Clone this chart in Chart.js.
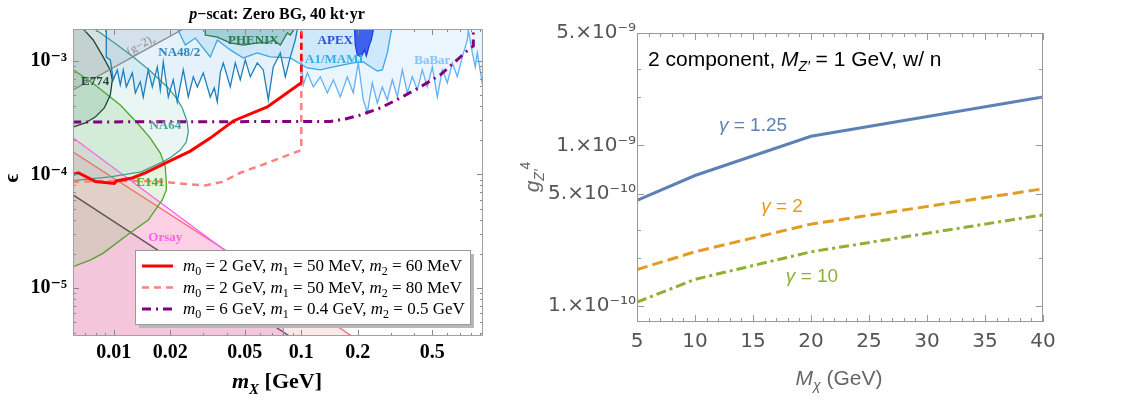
<!DOCTYPE html>
<html>
<head>
<meta charset="utf-8">
<script src="https://cdn.jsdelivr.net/npm/chart.js@4.4.1/dist/chart.umd.min.js"></script>
<style>
  html, body { margin: 0; padding: 0; background: #fff; }
  #wrap { position: relative; width: 1140px; height: 401px; }
  #left { position: absolute; left: 0; top: 0; width: 500px; height: 401px; }
  #right { position: absolute; left: 500px; top: 0; width: 640px; height: 401px; }
</style>
</head>
<body>
<div id="wrap">
  <div id="left"><canvas id="c1"></canvas></div>
  <div id="right"><canvas id="c2"></canvas></div>
</div>
<script>
// ---------- left panel: p-scat limits (m_X in GeV, epsilon) ----------
var xTicksL = [0.01, 0.02, 0.05, 0.1, 0.2, 0.5];
var xLabelsL = ['0.01', '0.02', '0.05', '0.1', '0.2', '0.5'];
var xMinorL = [0.007, 0.008, 0.009, 0.03, 0.04, 0.06, 0.07, 0.08, 0.09, 0.3, 0.4, 0.6, 0.7, 0.8, 0.9];
var yTicksL = [1e-5, 1e-4, 1e-3];
var yLabelsL = ['10⁻⁵', '10⁻⁴', '10⁻³'];
var yMinorL = [4e-6, 5e-6, 6e-6, 7e-6, 8e-6, 9e-6, 2e-5, 3e-5, 4e-5, 5e-5, 6e-5, 7e-5, 8e-5, 9e-5,
               2e-4, 3e-4, 4e-4, 5e-4, 6e-4, 7e-4, 8e-4, 9e-4];

// edges just outside the plotted range, used to close the shaded regions
var xEdgeL = 0.005, yEdgeB = 3e-6, yEdgeT = 2.5e-3;

// existing limits
var gm2 = [[0.005, 4.65e-4], [0.0256, 2.07e-3]];
var e774 = [[0.0068, 1.95e-3], [0.00777, 1.53e-3], [0.00879, 1.08e-3], [0.00958, 8.3e-4], [0.00982, 6.8e-4],
            [0.00958, 5.0e-4], [0.0089, 3.85e-4], [0.00796, 3.2e-4], [0.00705, 2.84e-4], [0.0058, 2.55e-4]];
var na64 = [[0.0076, 2.0e-3], [0.00994, 1.47e-3], [0.01271, 1.084e-3], [0.01566, 8.16e-4], [0.01929, 5.9e-4],
            [0.02153, 4.72e-4], [0.02319, 3.85e-4], [0.02466, 2.9e-4], [0.02496, 2.37e-4], [0.02437, 1.93e-4],
            [0.02263, 1.64e-4], [0.02025, 1.424e-4], [0.01859, 1.313e-4], [0.01401, 1.056e-4], [0.00958, 9.51e-5],
            [0.0058, 8.77e-5]];
var e141 = [[0.0058, 8.85e-4], [0.00796, 6.14e-4], [0.01083, 4.09e-4], [0.01335, 2.84e-4], [0.01566, 2.09e-4],
            [0.0177, 1.544e-4], [0.01882, 1.169e-4], [0.01906, 8.42e-5], [0.01906, 7.3e-5], [0.01814, 5.96e-5],
            [0.01527, 3.97e-5], [0.0118, 2.93e-5], [0.00879, 2.03e-5], [0.00749, 1.76e-5], [0.0058, 1.5e-5]];
var orsay = [[0.0058, 2.22e-4], [0.0384, 2.2e-5], [0.0802, 4.53e-6], [0.0802, 3e-6]];
var salmonLim = [[0.0058, 1.65e-4], [0.0393, 2.16e-5], [0.2064, 3.35e-6]];
var blackLim = [[0.0058, 6.93e-5], [0.094, 3.45e-6]];
var na48 = [[0.00912, 2.1e-3], [0.00912, 1.08e-3], [0.00958, 1.02e-3], [0.00994, 6.81e-4], [0.01044, 8.33e-4],
            [0.01083, 6.14e-4], [0.01124, 8.33e-4], [0.01166, 5.9e-4], [0.01256, 7.84e-4], [0.01303, 5.22e-4],
            [0.01384, 6.54e-4], [0.01436, 4.81e-4], [0.01527, 8.33e-4], [0.01605, 5.9e-4], [0.01707, 8.85e-4],
            [0.0177, 5.55e-4], [0.01836, 9.8e-4], [0.01953, 4.81e-4], [0.02075, 6.81e-4], [0.0218, 4.35e-4],
            [0.02348, 8.33e-4], [0.02496, 4.81e-4], [0.02655, 7.24e-4], [0.02789, 5.9e-4], [0.03, 7.84e-4],
            [0.0327, 4.81e-4], [0.03435, 5.78e-4], [0.03564, 4.35e-4], [0.03698, 7.84e-4], [0.03837, 9.6e-4],
            [0.04181, 5.9e-4], [0.04446, 9.6e-4], [0.04727, 6.81e-4], [0.05026, 1.02e-3], [0.05346, 7.24e-4],
            [0.05826, 9.6e-4], [0.0627, 8.33e-4], [0.06667, 4.53e-4], [0.07089, 8.85e-4], [0.07727, 1.176e-3],
            [0.08216, 7.24e-4], [0.08736, 1.08e-3], [0.09289, 1.53e-3], [0.09638, 2.1e-3]];
var phenix = [[0.03075, 2.1e-3], [0.03075, 1.69e-3], [0.03564, 1.62e-3], [0.04181, 1.44e-3], [0.04904, 1.38e-3],
              [0.05826, 1.44e-3], [0.06586, 1.44e-3], [0.07089, 1.53e-3], [0.07727, 1.38e-3], [0.08421, 1.76e-3],
              [0.08736, 1.69e-3], [0.0952, 2.1e-3]];
var a1mami = [[0.02127, 2.1e-3], [0.02406, 1.38e-3], [0.02721, 1.59e-3], [0.0327, 1.084e-3], [0.03564, 1.53e-3],
              [0.04181, 1.25e-3], [0.04904, 1.062e-3], [0.05826, 1.176e-3], [0.06833, 1.084e-3], [0.08736, 1.062e-3],
              [0.1077, 8.67e-4], [0.1263, 8.33e-4], [0.1482, 8.85e-4], [0.1893, 9.6e-4], [0.2141, 9.8e-4],
              [0.2391, 8.67e-4], [0.2543, 8.16e-4], [0.2704, 8.33e-4], [0.2875, 1.176e-3], [0.302, 1.87e-3],
              [0.3095, 2.1e-3]];
var apex = [[0.1917, 2.1e-3], [0.1941, 1.38e-3], [0.1989, 1.13e-3], [0.209, 1.084e-3], [0.2168, 1.25e-3],
            [0.2222, 1.107e-3], [0.2305, 1.38e-3], [0.2362, 1.53e-3], [0.242, 1.87e-3], [0.245, 2.1e-3]];
var babar = [[0.1, 1.02e-3], [0.1025, 6.14e-4], [0.1077, 7.84e-4], [0.1159, 5.9e-4], [0.1263, 7.24e-4],
             [0.1376, 5.22e-4], [0.1482, 6.81e-4], [0.1614, 4.81e-4], [0.1759, 7.24e-4], [0.1893, 5.22e-4],
             [0.2013, 9.6e-4], [0.2141, 4.53e-4], [0.2249, 3.48e-4], [0.2391, 6.41e-4], [0.2543, 4.26e-4],
             [0.2704, 5.9e-4], [0.2875, 4.53e-4], [0.3057, 6.81e-4], [0.3251, 4.81e-4], [0.3457, 8.33e-4],
             [0.3676, 5.22e-4], [0.3909, 7.24e-4], [0.4156, 5.55e-4], [0.4419, 8.33e-4], [0.4699, 5.9e-4],
             [0.4996, 8.85e-4], [0.5313, 4.81e-4], [0.5649, 8.33e-4], [0.6007, 6.41e-4], [0.6387, 9.6e-4],
             [0.6792, 7.24e-4], [0.7222, 1.084e-3], [0.7679, 1.53e-3], [0.7774, 1.87e-3], [0.8165, 1.176e-3],
             [0.8471, 8.85e-4], [0.8682, 1.176e-3], [0.9346, 5.55e-4], [1.1, 5.55e-4]];

// projected sensitivities
var m60 = [[0.006, 9.94e-5], [0.00647, 1.035e-4], [0.00796, 8.68e-5], [0.01006, 8.34e-5], [0.01031, 8.77e-5],
           [0.01256, 9.32e-5], [0.01472, 1.035e-4], [0.01882, 1.261e-4], [0.02559, 1.607e-4], [0.0327, 2.09e-4],
           [0.04338, 2.96e-4], [0.06586, 3.93e-4], [0.1, 6.41e-4]];
var m60Edge = [[0.1, 6.41e-4], [0.1, 2.5e-3]];
var m80 = [[0.006, 8.6e-5], [0.00958, 8.77e-5], [0.01384, 8.77e-5], [0.01882, 8.6e-5], [0.02406, 8.25e-5],
           [0.03075, 8.0e-5], [0.0379, 8.6e-5], [0.04727, 1.035e-4], [0.06586, 1.261e-4], [0.1, 1.64e-4],
           [0.1, 2.5e-3]];
var m6 = [[0.006, 2.9e-4], [0.1428, 2.93e-4], [0.1716, 3.08e-4], [0.2064, 3.34e-4], [0.2638, 3.85e-4],
          [0.3373, 4.72e-4], [0.4312, 5.9e-4], [0.5512, 7.53e-4], [0.7967, 1.3e-3], [0.8266, 1.356e-3],
          [0.8266, 2.5e-3]];

var regionNames = ['(g−2)_{e}', 'NA48/2', 'PHENIX', 'APEX', 'A1/MAMI', 'BaBar', 'E774', 'NA64', 'E141', 'Orsay'];
var regionNamePos = [[0.01384, 1.41e-3], [0.02235, 1.2e-3], [0.05547, 1.53e-3], [0.1518, 1.53e-3], [0.15, 1.06e-3],
                     [0.4996, 1.02e-3], [0.00796, 6.67e-4], [0.01882, 2.73e-4], [0.01566, 8.6e-5], [0.01882, 2.82e-5]];

// ---------- right panel: g_Z'^4 vs M_chi ----------
var mChi = [5, 10, 20, 40];
var gamma125 = [4.55e-10, 6.5e-10, 1.14e-9, 2.0e-9];
var gamma2 = [1.69e-10, 2.18e-10, 3.24e-10, 5.37e-10];
var gamma10 = [1.06e-10, 1.47e-10, 2.18e-10, 3.7e-10];
var xTicksR = [5, 10, 15, 20, 25, 30, 35, 40];
var xMinorR = [6, 7, 8, 9, 11, 12, 13, 14, 16, 17, 18, 19, 21, 22, 23, 24, 26, 27, 28, 29, 31, 32, 33, 34, 36, 37, 38, 39];
var yTicksR = [1e-10, 5e-10, 1e-9, 5e-9];
var yLabelsR = ['1.×10⁻¹⁰', '5.×10⁻¹⁰', '1.×10⁻⁹', '5.×10⁻⁹'];
var yMinorR = [2e-10, 3e-10, 2e-9, 3e-9];

var SERIF = '"Liberation Serif", "DejaVu Serif", serif';
var SANS = '"Liberation Sans", "DejaVu Sans", sans-serif';
var TICKSANS = '"DejaVu Sans", sans-serif';

function pts(arr) { return arr.map(function (p) { return { x: p[0], y: p[1] }; }); }

// tiny markup: *italic*, _{sub}, ^{sup}
function rich(str, size, family, weight) {
  var parts = [];
  str.split(/(_\{[^}]*\}|\^\{[^}]*\}|\*[^*]*\*)/).forEach(function (tok) {
    if (!tok) return;
    var small = Math.round(size * 0.68);
    if (tok[0] === '_' || tok[0] === '^') {
      var inner = tok.slice(2, -1), it = '';
      if (inner[0] === '*') { inner = inner.slice(1, -1); it = 'italic '; }
      parts.push({ t: inner, f: it + weight + ' ' + small + 'px ' + family, dy: tok[0] === '_' ? size * 0.25 : -size * 0.42 });
    } else if (tok[0] === '*') {
      parts.push({ t: tok.slice(1, -1), f: 'italic ' + weight + ' ' + size + 'px ' + family, dy: 0 });
    } else {
      parts.push({ t: tok, f: weight + ' ' + size + 'px ' + family, dy: 0 });
    }
  });
  return parts;
}

function drawRich(ctx, parts, x, y, align, rot, color, off) {
  ctx.save();
  ctx.translate(x, y);
  if (rot) ctx.rotate(rot * Math.PI / 180);
  ctx.textBaseline = 'alphabetic';
  ctx.textAlign = 'left';
  var w = 0;
  parts.forEach(function (p) { ctx.font = p.f; w += ctx.measureText(p.t).width; });
  var cx = align === 'left' ? 0 : (align === 'right' ? -w : -w / 2);
  parts.forEach(function (p) {
    ctx.font = p.f;
    ctx.fillStyle = color;
    ctx.fillText(p.t, cx, p.dy + (off || 0));
    cx += ctx.measureText(p.t).width;
  });
  ctx.restore();
}

// Mathematica-like frame with inward ticks on all four sides
function makeFrame(cfg) {
  return {
    id: 'frame',
    afterDatasetsDraw: function (chart) {
      var ctx = chart.ctx, a = chart.chartArea, sx = chart.scales.x, sy = chart.scales.y;
      ctx.save();
      ctx.lineWidth = 1;
      ctx.strokeStyle = cfg.tickColor;
      ctx.beginPath();
      function xt(v, len) {
        var p = Math.round(sx.getPixelForValue(v)) + 0.5;
        ctx.moveTo(p, a.bottom); ctx.lineTo(p, a.bottom - len);
        ctx.moveTo(p, a.top); ctx.lineTo(p, a.top + len);
      }
      function yt(v, len) {
        var p = Math.round(sy.getPixelForValue(v)) + 0.5;
        ctx.moveTo(a.left, p); ctx.lineTo(a.left + len, p);
        ctx.moveTo(a.right, p); ctx.lineTo(a.right - len, p);
      }
      cfg.xMajor.forEach(function (v) { xt(v, cfg.major); });
      cfg.xMinor.forEach(function (v) { xt(v, cfg.minor); });
      cfg.yMajor.forEach(function (v) { yt(v, cfg.major); });
      cfg.yMinor.forEach(function (v) { yt(v, cfg.minor); });
      ctx.stroke();
      ctx.strokeStyle = cfg.color;
      ctx.strokeRect(a.left + 0.5, a.top + 0.5, a.right - a.left - 1, a.bottom - a.top - 1);
      ctx.restore();
    }
  };
}

// free text: fixed layout texts and labels placed at data positions
function makeTexts(items) {
  return {
    id: 'texts',
    afterDraw: function (chart) {
      var ctx = chart.ctx;
      items.forEach(function (it) {
        var x = it.x, y = it.y;
        if (it.at) { x = chart.scales.x.getPixelForValue(it.at[0]); y = chart.scales.y.getPixelForValue(it.at[1]); }
        drawRich(ctx, it.parts, x, y, it.align || 'center', it.rot || 0, it.color, it.off || 0);
      });
    }
  };
}

function makeLegend(box, idx) {
  return {
    id: 'legendBox',
    afterDraw: function (chart) {
      var ctx = chart.ctx;
      ctx.save();
      ctx.fillStyle = '#b8b8b8';
      ctx.fillRect(box.x + 4, box.y + 4, box.w, box.h);
      ctx.fillStyle = '#fff';
      ctx.fillRect(box.x, box.y, box.w, box.h);
      ctx.strokeStyle = '#9a9a9a';
      ctx.lineWidth = 1;
      ctx.strokeRect(box.x + 0.5, box.y + 0.5, box.w, box.h);
      idx.forEach(function (d, i) {
        var ds = chart.data.datasets[d];
        var yy = box.y + box.first + i * box.step;
        ctx.strokeStyle = ds.borderColor;
        ctx.lineWidth = ds.borderWidth;
        ctx.setLineDash(ds.borderDash || []);
        ctx.beginPath();
        ctx.moveTo(box.x + 7, yy);
        ctx.lineTo(box.x + 38, yy);
        ctx.stroke();
        ctx.setLineDash([]);
        drawRich(ctx, rich(ds.label, 17, SERIF, 'normal'), box.x + 48, yy + 5, 'left', 0, '#000', 0);
      });
      ctx.restore();
    }
  };
}

// ---------- left chart datasets ----------
var regions = [ // back to front
  { line: salmonLim, close: [[0.22, yEdgeB], [xEdgeL, yEdgeB], [xEdgeL, 1.65e-4]], fill: 'rgba(240,140,140,0.20)', stroke: '#f06a6a' },
  { line: blackLim, close: [[0.1, yEdgeB], [xEdgeL, yEdgeB], [xEdgeL, 6.93e-5]], fill: 'rgba(110,70,80,0.10)', stroke: '#555' },
  { line: orsay, close: [[xEdgeL, yEdgeB], [xEdgeL, 2.22e-4]], fill: 'rgba(255,160,225,0.33)', stroke: '#ff60f0' },
  { line: e141, close: [[xEdgeL, 1.5e-5], [xEdgeL, 8.85e-4]], fill: 'rgba(130,205,100,0.22)', stroke: '#4fa52c' },
  { line: na64, close: [[xEdgeL, 8.77e-5], [xEdgeL, yEdgeT], [0.0076, yEdgeT]], fill: 'rgba(120,200,185,0.16)', stroke: '#3f9f90' },
  { line: e774, close: [[xEdgeL, 2.55e-4], [xEdgeL, yEdgeT], [0.0068, yEdgeT]], fill: 'rgba(60,110,90,0.14)', stroke: '#1c4636' },
  { line: gm2, close: [[xEdgeL, yEdgeT]], fill: 'rgba(150,150,160,0.22)', stroke: '#8a8a8a' },
  { line: babar, close: [[1.1, yEdgeT], [0.1, yEdgeT]], fill: 'rgba(150,205,250,0.20)', stroke: '#62b0f6' },
  { line: a1mami, close: [], fill: 'rgba(110,185,240,0.22)', stroke: '#38a8e6' },
  { line: na48, close: [], fill: 'rgba(130,190,235,0.20)', stroke: '#1d7fbd' },
  { line: phenix, close: [], fill: 'rgba(80,160,150,0.35)', stroke: '#2c7a4b' },
  { line: apex, close: [], fill: 'rgba(35,75,235,0.85)', stroke: '#1c3fe0' }
];

var leftSets = [];
regions.forEach(function (r, i) {
  leftSets.push({ label: '', data: pts(r.line.concat(r.close)), fill: 'shape', backgroundColor: r.fill,
                  borderColor: 'rgba(0,0,0,0)', borderWidth: 0, pointRadius: 0, order: 200 - i });
});
regions.forEach(function (r, i) {
  leftSets.push({ label: '', data: pts(r.line), fill: false, borderColor: r.stroke, borderWidth: 1.3,
                  pointRadius: 0, order: 100 - i });
});
var legendStart = leftSets.length;
leftSets.push({ label: '*m*_{0} = 2 GeV, *m*_{1} = 50 MeV, *m*_{2} = 60 MeV', data: pts(m60), fill: false,
                borderColor: '#ff0000', borderWidth: 3, pointRadius: 0, order: 2 });
leftSets.push({ label: '*m*_{0} = 2 GeV, *m*_{1} = 50 MeV, *m*_{2} = 80 MeV', data: pts(m80), fill: false,
                borderColor: '#ff8080', borderWidth: 2.5, borderDash: [7, 5], pointRadius: 0, order: 4 });
leftSets.push({ label: '*m*_{0} = 6 GeV, *m*_{1} = 0.4 GeV, *m*_{2} = 0.5 GeV', data: pts(m6), fill: false,
                borderColor: '#800080', borderWidth: 3, borderDash: [9, 5, 2, 5], pointRadius: 0, order: 3 });
leftSets.push({ label: '', data: pts(m60Edge), fill: false, borderColor: '#ff0000', borderWidth: 2.5,
                borderDash: [7, 4], pointRadius: 0, order: 1 });

var labelColors = ['#8c8c8c', '#2b86c0', '#2c7a4e', '#2a4fe0', '#34aee8', '#86c4f7', '#1e4a3a', '#48a596', '#4fa82e', '#ff5ef0'];
var leftTexts = [
  { x: 277, y: 19, parts: rich('*p*−scat: Zero BG, 40 kt·yr', 16, SERIF, 'bold'), color: '#000' },
  { x: 277, y: 388, parts: rich('*m*_{*X*} [GeV]', 22, SERIF, 'bold'), color: '#000' },
  { x: 18, y: 178, rot: -90, parts: rich('ϵ', 21, SERIF, 'bold'), color: '#000' }
];
regionNames.forEach(function (n, i) {
  leftTexts.push({ at: regionNamePos[i], parts: rich(n, i === 0 ? 12 : 13, SERIF, i === 0 ? 'normal' : 'bold'),
                   color: labelColors[i], rot: i === 0 ? -29 : 0, off: 4.5 });
});

Chart.defaults.font.family = SERIF;

new Chart(document.getElementById('c1'), {
  type: 'line',
  data: { datasets: leftSets },
  options: {
    responsive: true,
    maintainAspectRatio: false,
    animation: false,
    events: [],
    layout: { padding: { left: 0, right: 17, top: 29, bottom: 0 } },
    elements: { line: { tension: 0 }, point: { radius: 0 } },
    scales: {
      x: {
        type: 'logarithmic', min: 0.00606, max: 0.931,
        afterFit: function (s) { s.height = 65; },
        afterBuildTicks: function (s) { s.ticks = xTicksL.map(function (v) { return { value: v }; }); },
        ticks: { autoSkip: false, maxRotation: 0, padding: 5, color: '#000',
                 font: { family: SERIF, size: 20, weight: 'bold' },
                 callback: function (v, i) { return xLabelsL[i]; } },
        grid: { display: false, drawTicks: false },
        border: { display: false }
      },
      y: {
        type: 'logarithmic', min: 3.78e-6, max: 1.91e-3,
        afterFit: function (s) { s.width = 73; },
        afterBuildTicks: function (s) { s.ticks = yTicksL.map(function (v) { return { value: v }; }); },
        ticks: { autoSkip: false, padding: 6, color: '#000',
                 font: { family: SERIF, size: 20, weight: 'bold' },
                 callback: function (v, i) { return yLabelsL[i]; } },
        grid: { display: false, drawTicks: false },
        border: { display: false }
      }
    },
    plugins: { legend: { display: false }, tooltip: { enabled: false } }
  },
  plugins: [
    makeFrame({ xMajor: xTicksL, xMinor: xMinorL, yMajor: yTicksL, yMinor: yMinorL, major: 6, minor: 3,
                color: '#a0a0a0', tickColor: '#888' }),
    makeTexts(leftTexts),
    makeLegend({ x: 135, y: 250, w: 335, h: 74, first: 16, step: 21.5 }, [legendStart, legendStart + 1, legendStart + 2])
  ]
});

// ---------- right chart ----------
var rightSets = [
  { label: 'γ = 1.25', data: mChi.map(function (m, i) { return { x: m, y: gamma125[i] }; }),
    borderColor: '#5e81b5', borderWidth: 3, fill: false, pointRadius: 0 },
  { label: 'γ = 2', data: mChi.map(function (m, i) { return { x: m, y: gamma2[i] }; }),
    borderColor: '#e19c24', borderWidth: 3, borderDash: [11, 5], fill: false, pointRadius: 0 },
  { label: 'γ = 10', data: mChi.map(function (m, i) { return { x: m, y: gamma10[i] }; }),
    borderColor: '#8fb032', borderWidth: 3, borderDash: [10, 4, 3, 4], fill: false, pointRadius: 0 }
];

var rightTexts = [
  { x: 148, y: 66, align: 'left', parts: rich('2 component, *M*_{*Z′*} = 1 GeV, w/ n', 21, SANS, 'normal'), color: '#000' },
  { x: 39, y: 177, rot: -90, parts: rich('*g*_{*Z′*}^{4}', 21, SANS, 'normal'), color: '#666' },
  { x: 339, y: 385, parts: rich('*M*_{*χ*} (GeV)', 21, SANS, 'normal'), color: '#666' },
  { x: 253, y: 131, parts: rich('*γ* = 1.25', 19, SANS, 'normal'), color: '#5e81b5' },
  { x: 282, y: 212, parts: rich('*γ* = 2', 19, SANS, 'normal'), color: '#e19c24' },
  { x: 312, y: 282, parts: rich('*γ* = 10', 19, SANS, 'normal'), color: '#8fb032' }
];

new Chart(document.getElementById('c2'), {
  type: 'line',
  data: { datasets: rightSets },
  options: {
    responsive: true,
    maintainAspectRatio: false,
    animation: false,
    events: [],
    layout: { padding: { left: 0, right: 97, top: 33, bottom: 0 } },
    elements: { line: { tension: 0 }, point: { radius: 0 } },
    scales: {
      x: {
        type: 'linear', min: 5, max: 40,
        afterFit: function (s) { s.height = 79; },
        afterBuildTicks: function (s) { s.ticks = xTicksR.map(function (v) { return { value: v }; }); },
        ticks: { autoSkip: false, maxRotation: 0, padding: 8, color: '#555',
                 font: { family: TICKSANS, size: 20 } },
        grid: { display: false, drawTicks: false },
        border: { display: false }
      },
      y: {
        type: 'logarithmic', min: 7.98e-11, max: 5e-9,
        afterFit: function (s) { s.width = 137; },
        afterBuildTicks: function (s) { s.ticks = yTicksR.map(function (v) { return { value: v }; }); },
        ticks: { autoSkip: false, padding: 1, color: '#555',
                 font: { family: TICKSANS, size: 20 },
                 callback: function (v, i) { return yLabelsR[i]; } },
        grid: { display: false, drawTicks: false },
        border: { display: false }
      }
    },
    plugins: { legend: { display: false }, tooltip: { enabled: false } }
  },
  plugins: [
    makeFrame({ xMajor: xTicksR, xMinor: xMinorR, yMajor: yTicksR, yMinor: yMinorR, major: 7, minor: 4,
                color: '#999', tickColor: '#999' }),
    makeTexts(rightTexts)
  ]
});
</script>
</body>
</html>
